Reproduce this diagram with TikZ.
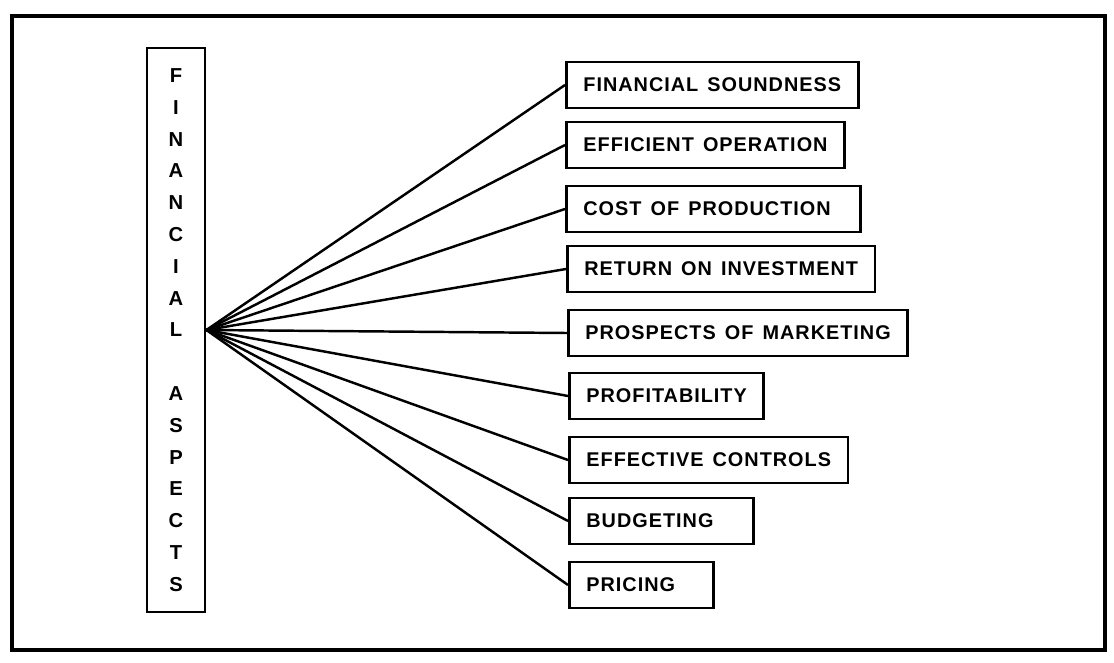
\documentclass[tikz,border=0pt]{standalone}
\usepackage{fontspec}
\setmainfont{Liberation Sans}
\newfontfamily\capsfont[LetterSpace=5,WordSpace=1.4]{Liberation Sans}
\usetikzlibrary{positioning}

\begin{document}
\begin{tikzpicture}[x=0.02cm, y=-0.02cm,
    aspect/.style={draw, line width=1.6pt, anchor=west, minimum height=0.92cm,
        inner xsep=0.34cm, font=\capsfont\bfseries\fontsize{11.3}{13}\selectfont},
    link/.style={line width=1.4pt}]
    \useasboundingbox (0,0) rectangle (1114,662);

    % Outer frame
    \draw[line width=2.6pt] (12,16) rectangle (1105,650);

    % Vertical title box
    \node[draw, line width=1.6pt, minimum width=1.16cm, minimum height=11.28cm,
        align=center, font=\capsfont\bfseries\fontsize{11.5}{18.1}\selectfont]
        (title) at (176,330)
        {F\\I\\N\\A\\N\\C\\I\\A\\L\\[18.1pt]A\\S\\P\\E\\C\\T\\S};

    % Aspect boxes
    \node[aspect] (soundness) at (565,85) {FINANCIAL SOUNDNESS};
    \node[aspect] (operation) at (565,145) {EFFICIENT OPERATION};
    \node[aspect] (cost) at (565,209) {\makebox[5.2cm][l]{COST OF PRODUCTION}};
    \node[aspect] (return) at (566,269) {RETURN ON INVESTMENT};
    \node[aspect] (marketing) at (567,333) {PROSPECTS OF MARKETING};
    \node[aspect] (profit) at (568,396) {PROFITABILITY};
    \node[aspect] (controls) at (568,460) {EFFECTIVE CONTROLS};
    \node[aspect] (budget) at (568,521) {\makebox[3.0cm][l]{BUDGETING}};
    \node[aspect] (pricing) at (568,585) {\makebox[2.2cm][l]{PRICING}};

    % Fan of links
    \foreach \n in {soundness,operation,cost,return,marketing,profit,controls,budget,pricing}
        \draw[link] (title.east) -- (\n.west);
\end{tikzpicture}
\end{document}
